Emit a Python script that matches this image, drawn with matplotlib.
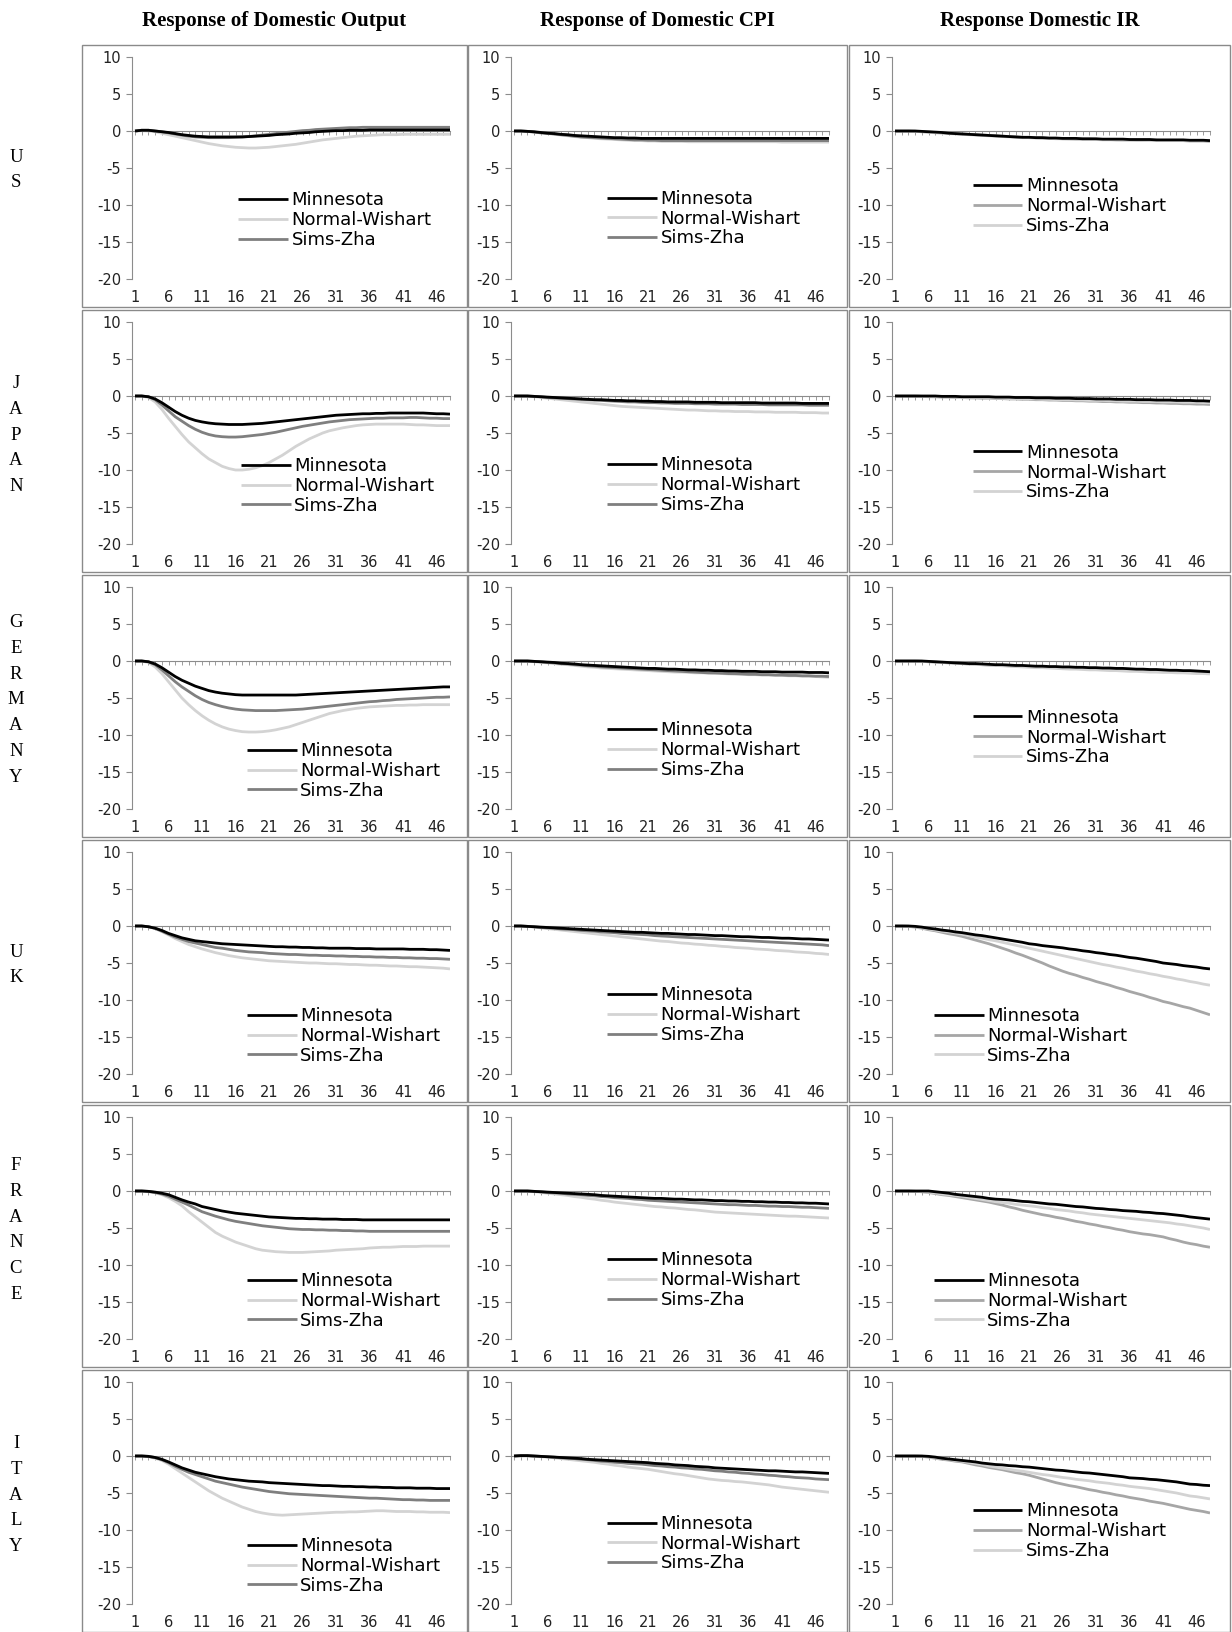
import numpy as np
import matplotlib.pyplot as plt
from matplotlib.patches import Rectangle

plt.rcParams["axes.unicode_minus"] = False

periods = np.arange(1, 49)
countries = ["US", "JAPAN", "GERMANY", "UK", "FRANCE", "ITALY"]
titles = ["Response of Domestic Output", "Response of Domestic CPI", "Response Domestic IR"]
series_names = ["Minnesota", "Normal-Wishart", "Sims-Zha"]
y_ticks = [10, 5, 0, -5, -10, -15, -20]
x_tick_labels = [1, 6, 11, 16, 21, 26, 31, 36, 41, 46]

# ---------------- US ----------------
us_out_minn = [0, 0.1, 0.1, 0, -0.1, -0.2, -0.35, -0.5,
               -0.6, -0.7, -0.75, -0.8, -0.8, -0.8, -0.8, -0.8,
               -0.8, -0.75, -0.7, -0.65, -0.6, -0.5, -0.45, -0.4,
               -0.3, -0.25, -0.2, -0.1, -0.05, 0, 0.05, 0.05,
               0.1, 0.1, 0.1, 0.15, 0.15, 0.15, 0.15, 0.15,
               0.15, 0.15, 0.15, 0.15, 0.15, 0.15, 0.15, 0.15]
us_out_nw = [0, 0.05, 0, -0.1, -0.3, -0.5, -0.7, -0.9,
             -1.1, -1.3, -1.5, -1.7, -1.85, -2.0, -2.1, -2.2,
             -2.25, -2.3, -2.3, -2.25, -2.2, -2.1, -2.0, -1.9,
             -1.8, -1.65, -1.5, -1.35, -1.2, -1.1, -1.0, -0.9,
             -0.8, -0.7, -0.65, -0.6, -0.55, -0.5, -0.5, -0.5,
             -0.45, -0.45, -0.45, -0.45, -0.45, -0.45, -0.45, -0.45]
us_out_sz = [0, 0.1, 0.1, 0, -0.1, -0.25, -0.4, -0.55,
             -0.7, -0.8, -0.85, -0.9, -0.9, -0.9, -0.9, -0.85,
             -0.8, -0.75, -0.65, -0.55, -0.45, -0.35, -0.25, -0.15,
             -0.05, 0.05, 0.1, 0.2, 0.25, 0.3, 0.35, 0.4,
             0.45, 0.45, 0.5, 0.5, 0.5, 0.5, 0.5, 0.5,
             0.5, 0.5, 0.5, 0.5, 0.5, 0.5, 0.5, 0.5]

us_cpi_minn = [0, 0, -0.05, -0.1, -0.2, -0.3, -0.35, -0.45,
               -0.5, -0.6, -0.65, -0.7, -0.75, -0.8, -0.85, -0.9,
               -0.9, -0.95, -0.95, -1.0, -1.0, -1.0, -1.0, -1.0,
               -1.0, -1.0, -1.0, -1.0, -1.0, -1.0, -1.0, -1.0,
               -1.0, -1.0, -1.0, -1.0, -1.0, -1.0, -1.0, -1.0,
               -1.0, -1.0, -1.0, -1.0, -1.0, -1.0, -1.0, -1.0]
us_cpi_nw = [0, 0, -0.05, -0.15, -0.25, -0.35, -0.45, -0.55,
             -0.65, -0.75, -0.85, -0.9, -1.0, -1.05, -1.1, -1.15,
             -1.2, -1.25, -1.3, -1.3, -1.35, -1.35, -1.4, -1.4,
             -1.4, -1.4, -1.45, -1.45, -1.45, -1.45, -1.45, -1.45,
             -1.45, -1.45, -1.45, -1.45, -1.45, -1.45, -1.45, -1.45,
             -1.5, -1.5, -1.5, -1.5, -1.5, -1.5, -1.5, -1.5]
us_cpi_sz = [0, 0, -0.05, -0.15, -0.25, -0.3, -0.4, -0.5,
             -0.6, -0.7, -0.8, -0.85, -0.9, -0.95, -1.0, -1.05,
             -1.1, -1.15, -1.2, -1.2, -1.25, -1.25, -1.3, -1.3,
             -1.3, -1.3, -1.3, -1.3, -1.3, -1.3, -1.3, -1.3,
             -1.3, -1.3, -1.3, -1.3, -1.3, -1.3, -1.3, -1.3,
             -1.3, -1.3, -1.3, -1.3, -1.3, -1.3, -1.3, -1.3]

us_ir_minn = [0, 0, 0, 0, -0.05, -0.1, -0.15, -0.2,
              -0.3, -0.35, -0.4, -0.45, -0.5, -0.55, -0.6, -0.65,
              -0.7, -0.75, -0.8, -0.85, -0.85, -0.9, -0.9, -0.95,
              -0.95, -1.0, -1.0, -1.0, -1.05, -1.05, -1.05, -1.1,
              -1.1, -1.1, -1.1, -1.15, -1.15, -1.15, -1.15, -1.2,
              -1.2, -1.2, -1.2, -1.2, -1.25, -1.25, -1.25, -1.3]
us_ir_nw = [0, 0, 0, -0.05, -0.1, -0.15, -0.2, -0.25,
            -0.3, -0.35, -0.4, -0.45, -0.5, -0.55, -0.6, -0.65,
            -0.7, -0.75, -0.8, -0.85, -0.9, -0.9, -0.95, -1.0,
            -1.0, -1.05, -1.05, -1.1, -1.1, -1.1, -1.15, -1.15,
            -1.15, -1.2, -1.2, -1.2, -1.25, -1.25, -1.25, -1.25,
            -1.3, -1.3, -1.3, -1.3, -1.35, -1.35, -1.35, -1.4]
us_ir_sz = [0, 0, 0, -0.05, -0.1, -0.15, -0.25, -0.3,
            -0.35, -0.4, -0.45, -0.5, -0.55, -0.6, -0.65, -0.7,
            -0.75, -0.8, -0.85, -0.9, -0.9, -0.95, -1.0, -1.0,
            -1.05, -1.05, -1.1, -1.1, -1.15, -1.15, -1.15, -1.2,
            -1.2, -1.2, -1.25, -1.25, -1.25, -1.25, -1.3, -1.3,
            -1.3, -1.3, -1.3, -1.3, -1.3, -1.3, -1.3, -1.3]

# ---------------- JAPAN ----------------
jp_out_minn = [0, 0, -0.1, -0.4, -0.9, -1.5, -2.1, -2.6,
               -3.0, -3.3, -3.5, -3.65, -3.75, -3.8, -3.85, -3.85,
               -3.85, -3.8, -3.75, -3.7, -3.6, -3.5, -3.4, -3.3,
               -3.2, -3.1, -3.0, -2.9, -2.8, -2.7, -2.6, -2.55,
               -2.5, -2.45, -2.4, -2.4, -2.35, -2.35, -2.3, -2.3,
               -2.3, -2.3, -2.3, -2.3, -2.35, -2.4, -2.4, -2.45]
jp_out_nw = [0, 0, -0.2, -0.8, -1.8, -3.0, -4.1, -5.2,
             -6.2, -7.0, -7.8, -8.5, -9.0, -9.5, -9.8, -10.0,
             -10.0, -9.9, -9.7, -9.4, -9.0, -8.5, -8.0, -7.4,
             -6.8, -6.3, -5.8, -5.4, -5.0, -4.7, -4.5, -4.3,
             -4.15, -4.0, -3.9, -3.85, -3.8, -3.8, -3.8, -3.8,
             -3.8, -3.85, -3.9, -3.9, -3.95, -4.0, -4.0, -4.0]
jp_out_sz = [0, 0, -0.1, -0.5, -1.2, -2.0, -2.8, -3.4,
             -4.0, -4.5, -4.9, -5.2, -5.4, -5.5, -5.55, -5.55,
             -5.5, -5.4, -5.3, -5.2, -5.05, -4.9, -4.7, -4.5,
             -4.3, -4.1, -3.95, -3.8, -3.65, -3.5, -3.4, -3.3,
             -3.2, -3.15, -3.1, -3.05, -3.0, -3.0, -2.95, -2.95,
             -2.95, -2.9, -2.9, -2.95, -3.0, -3.0, -3.05, -3.05]

jp_cpi_minn = [0, 0, 0, -0.05, -0.1, -0.15, -0.2, -0.25,
               -0.3, -0.35, -0.4, -0.45, -0.5, -0.5, -0.55, -0.6,
               -0.6, -0.65, -0.65, -0.7, -0.7, -0.75, -0.75, -0.8,
               -0.8, -0.8, -0.8, -0.85, -0.85, -0.85, -0.85, -0.9,
               -0.9, -0.9, -0.9, -0.9, -0.9, -0.95, -0.95, -0.95,
               -0.95, -0.95, -0.95, -1.0, -1.0, -1.0, -1.0, -1.0]
jp_cpi_nw = [0, 0, -0.05, -0.1, -0.2, -0.3, -0.4, -0.5,
             -0.6, -0.7, -0.8, -0.9, -1.0, -1.1, -1.2, -1.3,
             -1.4, -1.45, -1.5, -1.55, -1.6, -1.65, -1.7, -1.75,
             -1.8, -1.85, -1.9, -1.9, -1.95, -2.0, -2.0, -2.05,
             -2.05, -2.1, -2.1, -2.1, -2.15, -2.15, -2.15, -2.2,
             -2.2, -2.2, -2.2, -2.25, -2.25, -2.25, -2.3, -2.3]
jp_cpi_sz = [0, 0, 0, -0.05, -0.1, -0.2, -0.25, -0.3,
             -0.35, -0.4, -0.45, -0.5, -0.55, -0.6, -0.65, -0.7,
             -0.75, -0.8, -0.8, -0.85, -0.9, -0.9, -0.95, -0.95,
             -1.0, -1.0, -1.0, -1.05, -1.05, -1.05, -1.1, -1.1,
             -1.1, -1.1, -1.15, -1.15, -1.15, -1.15, -1.2, -1.2,
             -1.2, -1.2, -1.2, -1.2, -1.25, -1.25, -1.25, -1.25]

jp_ir_minn = [0, 0, 0, 0, 0, 0, 0, -0.05,
              -0.05, -0.05, -0.1, -0.1, -0.1, -0.1, -0.1, -0.15,
              -0.15, -0.15, -0.2, -0.2, -0.2, -0.25, -0.25, -0.25,
              -0.3, -0.3, -0.3, -0.35, -0.35, -0.35, -0.4, -0.4,
              -0.4, -0.45, -0.45, -0.45, -0.5, -0.5, -0.5, -0.55,
              -0.55, -0.55, -0.6, -0.6, -0.6, -0.65, -0.65, -0.7]
jp_ir_nw = [0, 0, 0, 0, -0.05, -0.1, -0.1, -0.15,
            -0.15, -0.2, -0.2, -0.25, -0.25, -0.3, -0.3, -0.35,
            -0.35, -0.4, -0.4, -0.45, -0.45, -0.5, -0.5, -0.55,
            -0.55, -0.6, -0.6, -0.65, -0.65, -0.7, -0.7, -0.75,
            -0.75, -0.8, -0.8, -0.85, -0.85, -0.9, -0.9, -0.95,
            -0.95, -1.0, -1.0, -1.05, -1.05, -1.1, -1.1, -1.15]
jp_ir_sz = [0, 0, 0, 0, -0.05, -0.05, -0.1, -0.1,
            -0.15, -0.15, -0.2, -0.2, -0.25, -0.25, -0.3, -0.3,
            -0.3, -0.35, -0.35, -0.4, -0.4, -0.4, -0.45, -0.45,
            -0.5, -0.5, -0.5, -0.55, -0.55, -0.6, -0.6, -0.6,
            -0.65, -0.65, -0.7, -0.7, -0.7, -0.75, -0.75, -0.75,
            -0.8, -0.8, -0.8, -0.85, -0.85, -0.85, -0.9, -0.9]

# ---------------- GERMANY ----------------
de_out_minn = [0, 0, -0.1, -0.4, -0.9, -1.5, -2.1, -2.6,
               -3.0, -3.4, -3.7, -4.0, -4.2, -4.35, -4.45, -4.55,
               -4.6, -4.6, -4.6, -4.6, -4.6, -4.6, -4.6, -4.6,
               -4.6, -4.55, -4.5, -4.45, -4.4, -4.35, -4.3, -4.25,
               -4.2, -4.15, -4.1, -4.05, -4.0, -3.95, -3.9, -3.85,
               -3.8, -3.75, -3.7, -3.65, -3.6, -3.55, -3.5, -3.5]
de_out_nw = [0, 0, -0.2, -0.8, -1.7, -2.8, -3.9, -5.0,
             -5.9, -6.7, -7.4, -8.0, -8.5, -8.9, -9.2, -9.4,
             -9.55, -9.6, -9.6, -9.55, -9.45, -9.3, -9.1, -8.9,
             -8.6, -8.3, -8.0, -7.7, -7.4, -7.1, -6.9, -6.7,
             -6.55, -6.4, -6.3, -6.2, -6.15, -6.1, -6.05, -6.0,
             -6.0, -5.95, -5.95, -5.9, -5.9, -5.9, -5.9, -5.9]
de_out_sz = [0, 0, -0.1, -0.5, -1.2, -2.0, -2.8, -3.5,
             -4.1, -4.7, -5.2, -5.6, -5.9, -6.15, -6.35, -6.5,
             -6.6, -6.65, -6.7, -6.7, -6.7, -6.7, -6.65, -6.6,
             -6.55, -6.5, -6.4, -6.3, -6.2, -6.1, -6.0, -5.9,
             -5.8, -5.7, -5.6, -5.5, -5.45, -5.35, -5.3, -5.2,
             -5.15, -5.1, -5.05, -5.0, -4.95, -4.9, -4.9, -4.85]

de_cpi_minn = [0, 0, 0, -0.05, -0.1, -0.15, -0.2, -0.3,
               -0.35, -0.4, -0.5, -0.55, -0.6, -0.65, -0.7, -0.75,
               -0.8, -0.85, -0.9, -0.95, -1.0, -1.0, -1.05, -1.1,
               -1.1, -1.15, -1.2, -1.2, -1.25, -1.25, -1.3, -1.3,
               -1.35, -1.35, -1.4, -1.4, -1.4, -1.45, -1.45, -1.45,
               -1.5, -1.5, -1.5, -1.5, -1.55, -1.55, -1.55, -1.6]
de_cpi_nw = [0, 0, -0.05, -0.1, -0.2, -0.25, -0.35, -0.45,
             -0.5, -0.6, -0.7, -0.8, -0.85, -0.95, -1.0, -1.05,
             -1.1, -1.15, -1.2, -1.25, -1.3, -1.35, -1.4, -1.45,
             -1.5, -1.5, -1.55, -1.6, -1.6, -1.65, -1.7, -1.7,
             -1.75, -1.8, -1.8, -1.85, -1.85, -1.9, -1.9, -1.95,
             -1.95, -2.0, -2.0, -2.05, -2.05, -2.1, -2.15, -2.2]
de_cpi_sz = [0, 0, 0, -0.05, -0.1, -0.2, -0.25, -0.35,
             -0.4, -0.5, -0.55, -0.65, -0.7, -0.8, -0.85, -0.9,
             -0.95, -1.0, -1.05, -1.1, -1.15, -1.2, -1.25, -1.3,
             -1.35, -1.4, -1.45, -1.5, -1.55, -1.6, -1.6, -1.65,
             -1.7, -1.7, -1.75, -1.8, -1.8, -1.85, -1.85, -1.9,
             -1.9, -1.95, -1.95, -2.0, -2.0, -2.05, -2.05, -2.1]

de_ir_minn = [0, 0, 0, 0, 0, -0.05, -0.1, -0.15,
              -0.2, -0.25, -0.3, -0.35, -0.35, -0.4, -0.45, -0.5,
              -0.5, -0.55, -0.6, -0.6, -0.65, -0.7, -0.7, -0.75,
              -0.75, -0.8, -0.8, -0.85, -0.85, -0.9, -0.9, -0.95,
              -0.95, -1.0, -1.0, -1.05, -1.1, -1.1, -1.15, -1.15,
              -1.2, -1.25, -1.25, -1.3, -1.3, -1.35, -1.4, -1.45]
de_ir_nw = [0, 0, 0, 0, -0.05, -0.1, -0.15, -0.2,
            -0.25, -0.3, -0.35, -0.4, -0.45, -0.5, -0.55, -0.6,
            -0.6, -0.65, -0.7, -0.75, -0.75, -0.8, -0.85, -0.85,
            -0.9, -0.95, -0.95, -1.0, -1.0, -1.05, -1.1, -1.1,
            -1.15, -1.15, -1.2, -1.2, -1.25, -1.3, -1.3, -1.35,
            -1.35, -1.4, -1.4, -1.45, -1.45, -1.5, -1.5, -1.55]
de_ir_sz = [0, 0, 0, 0, -0.05, -0.1, -0.15, -0.2,
            -0.25, -0.3, -0.35, -0.4, -0.45, -0.5, -0.55, -0.6,
            -0.65, -0.7, -0.75, -0.8, -0.85, -0.9, -0.9, -0.95,
            -1.0, -1.05, -1.1, -1.1, -1.15, -1.2, -1.2, -1.25,
            -1.3, -1.3, -1.35, -1.4, -1.4, -1.45, -1.5, -1.5,
            -1.55, -1.55, -1.6, -1.6, -1.65, -1.7, -1.7, -1.75]

# ---------------- UK ----------------
uk_out_minn = [0, 0, -0.1, -0.3, -0.6, -1.0, -1.3, -1.6,
               -1.8, -2.0, -2.1, -2.2, -2.3, -2.4, -2.45, -2.5,
               -2.55, -2.6, -2.65, -2.7, -2.75, -2.8, -2.8, -2.85,
               -2.85, -2.9, -2.9, -2.95, -2.95, -3.0, -3.0, -3.0,
               -3.0, -3.05, -3.05, -3.05, -3.1, -3.1, -3.1, -3.1,
               -3.1, -3.15, -3.15, -3.15, -3.2, -3.2, -3.25, -3.3]
uk_out_nw = [0, 0, -0.1, -0.35, -0.75, -1.2, -1.7, -2.1,
             -2.5, -2.8, -3.1, -3.35, -3.6, -3.8, -4.0, -4.15,
             -4.3, -4.4, -4.5, -4.6, -4.7, -4.75, -4.8, -4.85,
             -4.9, -4.95, -5.0, -5.0, -5.05, -5.1, -5.1, -5.15,
             -5.2, -5.2, -5.25, -5.3, -5.3, -5.35, -5.4, -5.4,
             -5.45, -5.5, -5.5, -5.55, -5.6, -5.65, -5.7, -5.8]
uk_out_sz = [0, 0, -0.1, -0.3, -0.7, -1.1, -1.5, -1.8,
             -2.1, -2.3, -2.5, -2.7, -2.9, -3.0, -3.15, -3.3,
             -3.4, -3.5, -3.55, -3.6, -3.7, -3.75, -3.8, -3.85,
             -3.85, -3.9, -3.95, -3.95, -4.0, -4.0, -4.05, -4.05,
             -4.1, -4.1, -4.15, -4.15, -4.2, -4.2, -4.25, -4.25,
             -4.3, -4.3, -4.35, -4.35, -4.4, -4.4, -4.45, -4.5]

uk_cpi_minn = [0, 0, -0.05, -0.1, -0.15, -0.2, -0.25, -0.3,
               -0.35, -0.4, -0.45, -0.5, -0.55, -0.6, -0.65, -0.7,
               -0.75, -0.8, -0.85, -0.85, -0.9, -0.95, -1.0, -1.0,
               -1.05, -1.1, -1.15, -1.15, -1.2, -1.25, -1.3, -1.3,
               -1.35, -1.4, -1.45, -1.45, -1.5, -1.55, -1.55, -1.6,
               -1.65, -1.65, -1.7, -1.75, -1.75, -1.8, -1.85, -1.9]
uk_cpi_nw = [0, 0, -0.05, -0.15, -0.25, -0.35, -0.45, -0.55,
             -0.65, -0.75, -0.85, -0.95, -1.05, -1.15, -1.25, -1.35,
             -1.45, -1.55, -1.65, -1.75, -1.85, -1.95, -2.05, -2.1,
             -2.2, -2.3, -2.35, -2.45, -2.5, -2.6, -2.65, -2.75,
             -2.8, -2.9, -2.95, -3.0, -3.1, -3.15, -3.2, -3.3,
             -3.35, -3.4, -3.5, -3.55, -3.6, -3.7, -3.75, -3.85]
uk_cpi_sz = [0, 0, -0.05, -0.1, -0.2, -0.25, -0.3, -0.4,
             -0.45, -0.5, -0.6, -0.65, -0.7, -0.8, -0.85, -0.9,
             -1.0, -1.05, -1.1, -1.15, -1.2, -1.3, -1.35, -1.4,
             -1.45, -1.5, -1.55, -1.6, -1.65, -1.7, -1.75, -1.8,
             -1.85, -1.9, -1.95, -2.0, -2.05, -2.1, -2.15, -2.2,
             -2.25, -2.3, -2.35, -2.4, -2.45, -2.5, -2.55, -2.65]

uk_ir_minn = [0, 0, 0, -0.05, -0.15, -0.3, -0.4, -0.55,
              -0.65, -0.8, -0.9, -1.05, -1.2, -1.3, -1.45, -1.6,
              -1.75, -1.9, -2.05, -2.2, -2.4, -2.5, -2.65, -2.75,
              -2.85, -2.95, -3.1, -3.2, -3.35, -3.45, -3.6, -3.7,
              -3.85, -3.95, -4.1, -4.25, -4.35, -4.5, -4.65, -4.8,
              -5.0, -5.1, -5.2, -5.35, -5.45, -5.55, -5.7, -5.8]
uk_ir_nw = [0, 0, -0.05, -0.15, -0.3, -0.5, -0.65, -0.85,
            -1.05, -1.2, -1.4, -1.65, -1.9, -2.15, -2.4, -2.7,
            -3.0, -3.3, -3.65, -3.95, -4.3, -4.65, -5.0, -5.4,
            -5.75, -6.1, -6.4, -6.65, -6.95, -7.2, -7.5, -7.75,
            -8.0, -8.3, -8.55, -8.85, -9.1, -9.35, -9.65, -9.9,
            -10.2, -10.4, -10.65, -10.9, -11.1, -11.4, -11.7, -12.0]
uk_ir_sz = [0, 0, -0.05, -0.1, -0.25, -0.4, -0.55, -0.7,
            -0.8, -0.95, -1.1, -1.3, -1.5, -1.65, -1.85, -2.0,
            -2.2, -2.4, -2.6, -2.8, -3.0, -3.2, -3.4, -3.6,
            -3.8, -4.0, -4.2, -4.4, -4.6, -4.8, -5.0, -5.2,
            -5.35, -5.55, -5.7, -5.9, -6.1, -6.25, -6.45, -6.6,
            -6.8, -6.95, -7.15, -7.3, -7.5, -7.65, -7.85, -8.0]

# ---------------- FRANCE ----------------
fr_out_minn = [0, 0, -0.05, -0.15, -0.3, -0.5, -0.85, -1.2,
               -1.5, -1.75, -2.1, -2.3, -2.5, -2.7, -2.85, -3.0,
               -3.1, -3.2, -3.3, -3.4, -3.5, -3.55, -3.6, -3.65,
               -3.7, -3.7, -3.75, -3.75, -3.8, -3.8, -3.8, -3.85,
               -3.85, -3.85, -3.9, -3.9, -3.9, -3.9, -3.9, -3.9,
               -3.9, -3.9, -3.9, -3.9, -3.9, -3.9, -3.9, -3.9]
fr_out_nw = [0, 0, -0.1, -0.25, -0.5, -0.9, -1.4, -2.0,
             -2.8, -3.5, -4.2, -4.9, -5.6, -6.1, -6.5, -6.9,
             -7.2, -7.5, -7.8, -8.0, -8.1, -8.2, -8.25, -8.3,
             -8.3, -8.3, -8.25, -8.2, -8.15, -8.1, -8.0, -7.95,
             -7.9, -7.85, -7.8, -7.7, -7.65, -7.6, -7.6, -7.55,
             -7.5, -7.5, -7.5, -7.45, -7.45, -7.45, -7.45, -7.45]
fr_out_sz = [0, 0, -0.05, -0.2, -0.4, -0.7, -1.1, -1.5,
             -1.9, -2.35, -2.8, -3.1, -3.4, -3.65, -3.9, -4.1,
             -4.25, -4.4, -4.55, -4.7, -4.8, -4.9, -5.0, -5.1,
             -5.15, -5.2, -5.2, -5.25, -5.25, -5.3, -5.3, -5.35,
             -5.35, -5.4, -5.4, -5.45, -5.45, -5.45, -5.45, -5.45,
             -5.45, -5.45, -5.45, -5.45, -5.45, -5.45, -5.45, -5.45]

fr_cpi_minn = [0, 0, 0, -0.05, -0.1, -0.15, -0.2, -0.25,
               -0.3, -0.35, -0.4, -0.45, -0.5, -0.6, -0.65, -0.7,
               -0.75, -0.8, -0.85, -0.9, -0.95, -1.0, -1.0, -1.05,
               -1.1, -1.1, -1.15, -1.2, -1.2, -1.25, -1.3, -1.3,
               -1.35, -1.35, -1.4, -1.4, -1.45, -1.45, -1.5, -1.5,
               -1.55, -1.55, -1.6, -1.6, -1.65, -1.65, -1.7, -1.75]
fr_cpi_nw = [0, 0, -0.05, -0.1, -0.2, -0.3, -0.4, -0.5,
             -0.6, -0.75, -0.85, -1.0, -1.1, -1.25, -1.35, -1.5,
             -1.6, -1.7, -1.8, -1.9, -2.0, -2.1, -2.15, -2.25,
             -2.3, -2.4, -2.5, -2.55, -2.65, -2.75, -2.85, -2.9,
             -2.95, -3.0, -3.05, -3.1, -3.15, -3.2, -3.25, -3.3,
             -3.35, -3.4, -3.4, -3.45, -3.5, -3.55, -3.6, -3.65]
fr_cpi_sz = [0, 0, 0, -0.05, -0.1, -0.2, -0.25, -0.3,
             -0.4, -0.45, -0.5, -0.6, -0.65, -0.75, -0.8, -0.9,
             -0.95, -1.0, -1.1, -1.15, -1.25, -1.3, -1.35, -1.4,
             -1.45, -1.5, -1.55, -1.6, -1.65, -1.7, -1.75, -1.8,
             -1.85, -1.85, -1.9, -1.95, -1.95, -2.0, -2.05, -2.05,
             -2.1, -2.1, -2.15, -2.2, -2.2, -2.25, -2.3, -2.35]

fr_ir_minn = [0, 0, 0, 0, 0, 0, -0.1, -0.2,
              -0.3, -0.45, -0.55, -0.65, -0.75, -0.85, -1.0, -1.1,
              -1.15, -1.2, -1.3, -1.4, -1.45, -1.55, -1.65, -1.75,
              -1.8, -1.9, -2.0, -2.1, -2.15, -2.25, -2.35, -2.4,
              -2.5, -2.55, -2.65, -2.7, -2.75, -2.85, -2.9, -3.0,
              -3.05, -3.15, -3.25, -3.35, -3.5, -3.6, -3.7, -3.8]
fr_ir_nw = [0, 0, 0, -0.05, -0.1, -0.2, -0.35, -0.5,
            -0.6, -0.75, -0.9, -1.05, -1.2, -1.35, -1.5, -1.7,
            -1.9, -2.15, -2.35, -2.6, -2.8, -3.0, -3.2, -3.35,
            -3.55, -3.7, -3.9, -4.1, -4.25, -4.45, -4.6, -4.8,
            -4.95, -5.15, -5.3, -5.5, -5.65, -5.8, -5.9, -6.05,
            -6.2, -6.45, -6.65, -6.9, -7.1, -7.25, -7.45, -7.6]
fr_ir_sz = [0, 0, 0, -0.05, -0.1, -0.15, -0.25, -0.4,
            -0.5, -0.6, -0.7, -0.85, -1.0, -1.15, -1.3, -1.45,
            -1.55, -1.65, -1.8, -1.9, -2.0, -2.1, -2.25, -2.35,
            -2.5, -2.6, -2.7, -2.85, -2.95, -3.1, -3.2, -3.3,
            -3.4, -3.5, -3.6, -3.7, -3.8, -3.9, -4.0, -4.1,
            -4.2, -4.3, -4.45, -4.55, -4.7, -4.85, -5.0, -5.2]

# ---------------- ITALY ----------------
it_out_minn = [0, 0, -0.05, -0.2, -0.45, -0.8, -1.2, -1.6,
               -1.9, -2.2, -2.4, -2.6, -2.8, -2.95, -3.1, -3.2,
               -3.3, -3.4, -3.45, -3.5, -3.6, -3.65, -3.7, -3.75,
               -3.8, -3.85, -3.9, -3.95, -4.0, -4.0, -4.05, -4.1,
               -4.1, -4.15, -4.15, -4.2, -4.2, -4.25, -4.25, -4.3,
               -4.3, -4.3, -4.35, -4.35, -4.35, -4.4, -4.4, -4.4]
it_out_nw = [0, 0, -0.1, -0.3, -0.6, -1.1, -1.7, -2.3,
             -2.9, -3.5, -4.1, -4.7, -5.2, -5.7, -6.1, -6.5,
             -6.9, -7.2, -7.5, -7.7, -7.85, -7.95, -8.0, -7.95,
             -7.9, -7.85, -7.8, -7.75, -7.7, -7.65, -7.6, -7.6,
             -7.55, -7.55, -7.5, -7.45, -7.4, -7.4, -7.45, -7.5,
             -7.5, -7.5, -7.55, -7.55, -7.6, -7.6, -7.6, -7.65]
it_out_sz = [0, 0, -0.05, -0.2, -0.5, -0.9, -1.4, -1.8,
             -2.2, -2.5, -2.8, -3.1, -3.4, -3.6, -3.8, -4.0,
             -4.2, -4.35, -4.5, -4.65, -4.8, -4.9, -5.0, -5.1,
             -5.15, -5.2, -5.25, -5.3, -5.35, -5.4, -5.45, -5.5,
             -5.55, -5.6, -5.65, -5.7, -5.7, -5.75, -5.8, -5.85,
             -5.9, -5.9, -5.95, -5.95, -6.0, -6.0, -6.0, -6.0]

it_cpi_minn = [0, 0.05, 0.05, 0, -0.05, -0.1, -0.15, -0.2,
               -0.25, -0.3, -0.35, -0.45, -0.5, -0.55, -0.6, -0.65,
               -0.7, -0.75, -0.8, -0.85, -0.9, -1.0, -1.05, -1.1,
               -1.2, -1.25, -1.3, -1.4, -1.45, -1.5, -1.6, -1.65,
               -1.7, -1.75, -1.8, -1.85, -1.9, -1.95, -2.0, -2.0,
               -2.05, -2.1, -2.15, -2.15, -2.2, -2.25, -2.3, -2.35]
it_cpi_nw = [0, 0, 0, -0.05, -0.1, -0.15, -0.25, -0.35,
             -0.45, -0.55, -0.65, -0.75, -0.85, -1.0, -1.1, -1.25,
             -1.35, -1.5, -1.6, -1.7, -1.8, -1.95, -2.1, -2.25,
             -2.4, -2.5, -2.65, -2.8, -2.95, -3.1, -3.2, -3.3,
             -3.35, -3.45, -3.5, -3.6, -3.7, -3.8, -3.9, -4.05,
             -4.2, -4.3, -4.4, -4.5, -4.6, -4.7, -4.8, -4.9]
it_cpi_sz = [0, 0.05, 0.05, 0, -0.05, -0.1, -0.15, -0.25,
             -0.3, -0.35, -0.45, -0.5, -0.6, -0.7, -0.75, -0.85,
             -0.9, -1.0, -1.05, -1.1, -1.2, -1.3, -1.35, -1.45,
             -1.5, -1.6, -1.65, -1.75, -1.8, -1.9, -2.0, -2.05,
             -2.15, -2.2, -2.3, -2.35, -2.45, -2.5, -2.6, -2.65,
             -2.75, -2.8, -2.9, -2.95, -3.0, -3.1, -3.15, -3.2]

it_ir_minn = [0, 0, 0, 0, 0, -0.05, -0.15, -0.3,
              -0.4, -0.5, -0.6, -0.7, -0.8, -0.95, -1.05, -1.15,
              -1.2, -1.3, -1.35, -1.45, -1.5, -1.6, -1.7, -1.8,
              -1.9, -1.95, -2.05, -2.15, -2.25, -2.3, -2.4, -2.5,
              -2.6, -2.7, -2.8, -2.95, -3.0, -3.05, -3.15, -3.2,
              -3.3, -3.4, -3.5, -3.65, -3.8, -3.85, -3.95, -4.0]
it_ir_nw = [0, 0, 0, 0, -0.05, -0.15, -0.3, -0.45,
            -0.55, -0.7, -0.8, -1.0, -1.2, -1.35, -1.55, -1.7,
            -1.85, -2.05, -2.25, -2.4, -2.6, -2.85, -3.1, -3.35,
            -3.6, -3.8, -4.0, -4.15, -4.35, -4.55, -4.7, -4.9,
            -5.05, -5.25, -5.4, -5.6, -5.75, -5.9, -6.1, -6.25,
            -6.4, -6.6, -6.8, -7.0, -7.2, -7.35, -7.5, -7.7]
it_ir_sz = [0, 0, 0, 0, -0.05, -0.1, -0.25, -0.35,
            -0.45, -0.6, -0.7, -0.85, -1.0, -1.15, -1.35, -1.5,
            -1.65, -1.8, -1.95, -2.05, -2.2, -2.35, -2.5, -2.6,
            -2.75, -2.9, -3.0, -3.15, -3.25, -3.35, -3.5, -3.6,
            -3.7, -3.85, -3.95, -4.1, -4.2, -4.3, -4.4, -4.55,
            -4.7, -4.85, -5.0, -5.2, -5.4, -5.5, -5.65, -5.8]

panels = [
    [(us_out_minn, us_out_nw, us_out_sz), (us_cpi_minn, us_cpi_nw, us_cpi_sz), (us_ir_minn, us_ir_nw, us_ir_sz)],
    [(jp_out_minn, jp_out_nw, jp_out_sz), (jp_cpi_minn, jp_cpi_nw, jp_cpi_sz), (jp_ir_minn, jp_ir_nw, jp_ir_sz)],
    [(de_out_minn, de_out_nw, de_out_sz), (de_cpi_minn, de_cpi_nw, de_cpi_sz), (de_ir_minn, de_ir_nw, de_ir_sz)],
    [(uk_out_minn, uk_out_nw, uk_out_sz), (uk_cpi_minn, uk_cpi_nw, uk_cpi_sz), (uk_ir_minn, uk_ir_nw, uk_ir_sz)],
    [(fr_out_minn, fr_out_nw, fr_out_sz), (fr_cpi_minn, fr_cpi_nw, fr_cpi_sz), (fr_ir_minn, fr_ir_nw, fr_ir_sz)],
    [(it_out_minn, it_out_nw, it_out_sz), (it_cpi_minn, it_cpi_nw, it_cpi_sz), (it_ir_minn, it_ir_nw, it_ir_sz)],
]

# legend anchor (x of line start, y of first row) in data units, per panel
legend_pos = [
    [(16.4, -9.6), (14.9, -9.4), (12.6, -7.7)],
    [(16.8, -9.7), (14.9, -9.6), (12.6, -7.9)],
    [(17.7, -12.4), (14.9, -9.6), (12.6, -7.9)],
    [(17.7, -12.4), (14.9, -9.6), (6.8, -12.4)],
    [(17.7, -12.4), (14.9, -9.6), (6.8, -12.4)],
    [(17.7, -12.4), (14.9, -9.4), (12.6, -7.7)],
]

BLACK, LIGHT, DARK, MEDIUM = "#000000", "#D3D3D3", "#7F7F7F", "#A6A6A6"
col_colors = [[BLACK, LIGHT, DARK], [BLACK, LIGHT, DARK], [BLACK, MEDIUM, LIGHT]]
AXIS_GRAY = "#8C8C8C"

W, H = 1232, 1632
fig = plt.figure(figsize=(W / 100, H / 100), dpi=100)

panel_left = [82, 468, 849]
panel_w = [385, 379, 381]
ax_offset = [50, 43, 43]
panel_top0, row_pitch, panel_h = 45, 265, 262

for r in range(6):
    ptop = panel_top0 + r * row_pitch
    for c in range(3):
        # chart area border
        fig.add_artist(Rectangle((panel_left[c] / W, 1 - (ptop + panel_h) / H),
                                 panel_w[c] / W, panel_h / H, transform=fig.transFigure,
                                 fill=False, edgecolor="#8A8A8A", linewidth=1.0))
        left = panel_left[c] + ax_offset[c]
        ax = fig.add_axes([left / W, 1 - (ptop + 12 + 222) / H, 318 / W, 222 / H])
        ax.set_facecolor("none")
        cols = col_colors[c]
        handles = []
        for k, vals in enumerate(panels[r][c]):
            ln, = ax.plot(periods, vals, color=cols[k], linewidth=2.0,
                          zorder=4 if k == 0 else 3, solid_capstyle="butt")
            handles.append(ln)
        ax.set_xlim(0.55, 48)
        ax.set_ylim(-20, 10)
        ax.set_yticks(y_ticks)
        ax.tick_params(axis="y", direction="out", length=4, width=0.8, color=AXIS_GRAY,
                       labelsize=10.5, labelcolor="#222222", pad=4)
        for s in ["top", "right"]:
            ax.spines[s].set_visible(False)
        ax.spines["left"].set_color(AXIS_GRAY)
        ax.spines["left"].set_linewidth(0.8)
        ax.spines["bottom"].set_position(("data", 0))
        ax.spines["bottom"].set_color(AXIS_GRAY)
        ax.spines["bottom"].set_linewidth(0.8)
        ax.set_xticks(periods)
        ax.tick_params(axis="x", direction="out", length=3, width=0.6, color=AXIS_GRAY,
                       labelbottom=False)
        sec = ax.secondary_xaxis("bottom")
        sec.set_xticks(x_tick_labels)
        sec.spines["bottom"].set_visible(False)
        sec.tick_params(length=0, labelsize=10.5, labelcolor="#222222", pad=8)

        lx, ly = legend_pos[r][c]
        ax.legend(handles, series_names, loc="upper left", bbox_to_anchor=(lx, ly + 1.45),
                  bbox_transform=ax.transData, frameon=False, fontsize=13,
                  handlelength=2.75, handletextpad=0.2, labelspacing=0.1,
                  borderpad=0, borderaxespad=0)

    fig.text(16 / W, 1 - (ptop + 125) / H, "\n".join(countries[r]), ha="center", va="center",
             family="Liberation Serif", fontsize=13.5, linespacing=1.68)

for c in range(3):
    fig.text((panel_left[c] + panel_w[c] / 2) / W, 1 - 21 / H, titles[c], ha="center",
             va="center", family="Liberation Serif", fontweight="bold", fontsize=15)

fig.savefig("out.png", dpi=100)
